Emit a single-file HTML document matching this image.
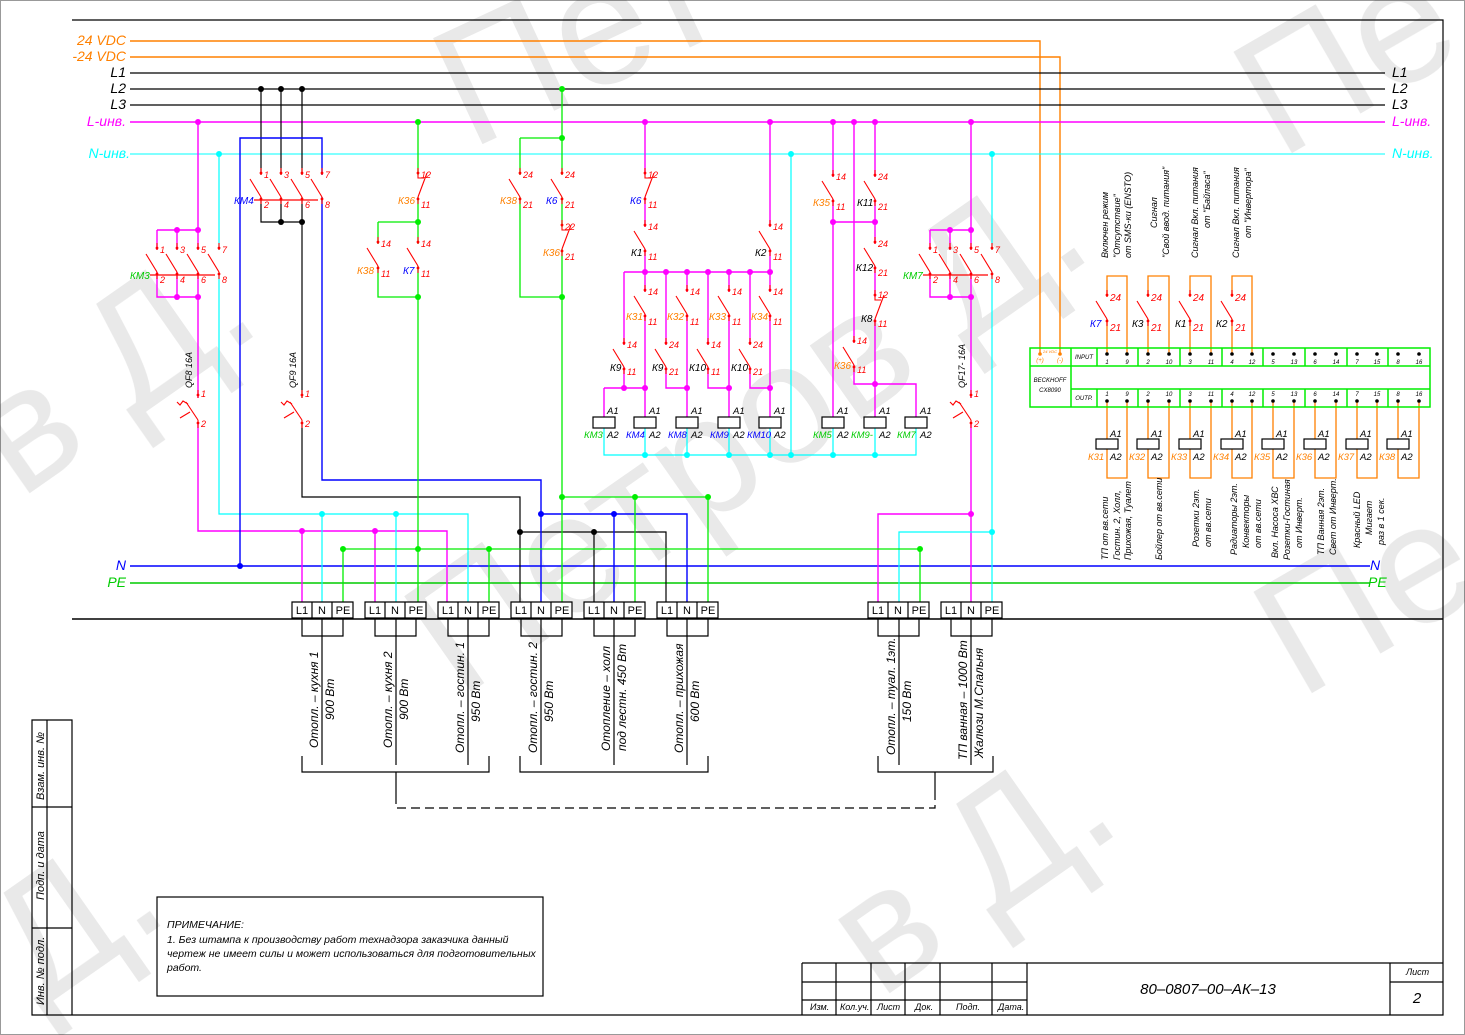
<!DOCTYPE html>
<html><head><meta charset="utf-8"><style>
html,body{margin:0;padding:0;background:#fff;}
svg{display:block;font-family:"Liberation Sans","DejaVu Sans",sans-serif;font-style:italic;}
</style></head><body>
<svg width="1465" height="1035" viewBox="0 0 1465 1035" xmlns="http://www.w3.org/2000/svg">
<defs>
<g id="no"><rect x="-3" y="7" width="6" height="22" fill="#fff"/><path d="M0,0V7M0,29V36M0,29L-11,11" stroke="#f00" stroke-width="1.1" fill="none"/><circle cx="0" cy="5" r="1.4" fill="#f00"/><circle cx="0" cy="31" r="1.4" fill="#f00"/></g>
<g id="nc"><rect x="-3" y="7" width="6" height="22" fill="#fff"/><path d="M0,0V10H6M0,29V36M0,29L9,5" stroke="#f00" stroke-width="1.1" fill="none"/><circle cx="0" cy="5" r="1.4" fill="#f00"/><circle cx="0" cy="31" r="1.4" fill="#f00"/></g>
<g id="qf"><rect x="-3" y="8" width="6" height="24" fill="#fff"/><path d="M0,0V8M0,30V38M0,30L-12,12M-10,14l-5,-3l-3,4l-3,-3M-8,22l-10,6" stroke="#f00" stroke-width="1.1" fill="none"/><circle cx="0" cy="5" r="1.4" fill="#f00"/><circle cx="0" cy="33" r="1.4" fill="#f00"/></g>
</defs>
<rect x="0.5" y="0.5" width="1464" height="1034" fill="none" stroke="#999"/>
<!-- watermark -->
<g fill="#000" opacity="0.09" font-size="170" font-style="normal">
<text transform="translate(470,150) rotate(-25)">Пет</text>
<text transform="translate(460,700) rotate(-35)">Петров Д.</text>
<text transform="translate(20,500) rotate(-35)">в Д.</text>
<text transform="translate(1280,160) rotate(-30)">Пе</text>
<text transform="translate(1300,700) rotate(-30)">Пе</text>
<text transform="translate(40,1010) rotate(-35)">Д.</text>
<text transform="translate(880,1000) rotate(-35)">в Д.</text>
</g>
<!-- frame -->
<g stroke="#000" fill="none" stroke-width="1.2">
<path d="M72,20H1443V1015H32V720H72V1015M32,807H72M32,928H72M47,720V1015"/>
<path d="M72,619H1443" stroke-width="1.6"/>
<rect x="157" y="897" width="386" height="99"/>
<path d="M802,963H1443M802,982H1027M802,1000H1027M836,963V1015M871,963V1015M905,963V1015M940,963V1015M992,963V1015M1027,963V1015M1390,963V1015M1390,982H1443M802,963V1015"/>
</g>
<g font-size="11">
<text transform="translate(44,800) rotate(-90)">Взам. инв. №</text>
<text transform="translate(44,900) rotate(-90)">Подп. и дата</text>
<text transform="translate(44,1005) rotate(-90)">Инв. № подл.</text>
</g>
<g font-size="10.5">
<text x="167" y="928">ПРИМЕЧАНИЕ:</text>
<text x="167" y="943">1. Без штампа к производству работ технадзора заказчика данный</text>
<text x="167" y="957">чертеж не имеет силы и может использоваться для подготовительных</text>
<text x="167" y="971">работ.</text>
</g>
<g font-size="9">
<text x="810" y="1010">Изм.</text><text x="840" y="1010">Кол.уч.</text><text x="877" y="1010">Лист</text><text x="915" y="1010">Док.</text><text x="956" y="1010">Подп.</text><text x="998" y="1010">Дата.</text>
<text x="1406" y="975">Лист</text>
</g>
<text x="1208" y="994" font-size="15" text-anchor="middle">80–0807–00–АК–13</text>
<text x="1417" y="1003" font-size="15" text-anchor="middle">2</text>

<!-- buses -->
<g fill="none">
<path d="M130,41H1040V354" stroke="#ff8000" stroke-width="1.4"/>
<path d="M130,57H1060V354" stroke="#ff8000" stroke-width="1.4"/>
<path d="M130,73H1385M130,89H1385M130,105H1385" stroke="#000" stroke-width="1.2"/>
<path d="M130,122H1385" stroke="#f0f" stroke-width="1.6"/>
<path d="M130,154H1385" stroke="#0ff" stroke-width="1"/>
<path d="M130,566H1370" stroke="#00f" stroke-width="1.6"/>
<path d="M130,583H1370" stroke="#0c0" stroke-width="1.6"/>
</g>
<g font-size="14">
<text x="126" y="45" fill="#ff8000" text-anchor="end">24 VDC</text>
<text x="126" y="61" fill="#ff8000" text-anchor="end">-24 VDC</text>
<text x="126" y="77" text-anchor="end">L1</text><text x="126" y="93" text-anchor="end">L2</text><text x="126" y="109" text-anchor="end">L3</text>
<text x="126" y="126" fill="#f0f" text-anchor="end">L-инв.</text>
<text x="130" y="158" fill="#0ff" text-anchor="end">N-инв.</text>
<text x="126" y="570" fill="#00f" text-anchor="end">N</text>
<text x="126" y="587" fill="#0c0" text-anchor="end">PE</text>
<text x="1392" y="77">L1</text><text x="1392" y="93">L2</text><text x="1392" y="109">L3</text>
<text x="1392" y="126" fill="#f0f">L-инв.</text><text x="1392" y="158" fill="#0ff">N-инв.</text>
<text x="1370" y="570" fill="#00f">N</text><text x="1368" y="587" fill="#0c0">PE</text>
</g>

<!-- wiring -->
<g fill="none" stroke-width="1.4">
<path stroke="#f0f" d="M198,122V531H447V608M302,531V608M375,531V608M157,230H198M157,230V297H198M177,230V297"/>
<path stroke="#f0f" d="M645,122V272M770,122V272M624,272H770M624,272V388M645,272V388M604,388H645M604,388V417M645,388V417M666,272V388H687M687,272V417M708,272V388H729M729,272V417M750,272V388H770M770,272V417"/>
<path stroke="#f0f" d="M833,122V417M833,222H875M854,122V384H916V417M875,122V417"/>
<path stroke="#f0f" d="M971,122V608M930,230H971M930,230V297H971M950,230V297M971,514H878V608"/>
<path stroke="#0ff" stroke-width="1.2" d="M219,154V514H468V608M322,514V608M396,514V608M992,154V608M992,532H899V608M791,154V455M604,428V455H916V428M645,428V455M687,428V455M729,428V455M770,428V455M833,428V455M875,428V455"/>
<path stroke="#000" stroke-width="1.2" d="M261,89V222H302M281,89V222M302,89V497H520V608M520,532H666V608M594,532V608"/>
<path stroke="#00f" stroke-width="1.4" d="M240,566V138H322V480H541V608M541,514H687V608M614,514V608"/>
<path stroke="#0e0" stroke-width="1.3" d="M418,122V608M378,222H418M378,222V297H418M343,549H920V608M343,549V608M489,549V608M562,89V608M520,138H562M520,138V297H562M562,497H708V608M635,497V608"/>
<path stroke="#ff8000" stroke-width="1.3" d="M1107,354V276H1127V354M1148,354V276H1169V354M1190,354V276H1211V354M1232,354V276H1252V354"/>
<path stroke="#ff8000" stroke-width="1.3" d="M1107,401V478H1127V401M1148,401V478H1169V401M1190,401V478H1211V401M1232,401V478H1252V401M1273,401V478H1294V401M1315,401V478H1336V401M1357,401V478H1377V401M1398,401V478H1419V401"/>
</g>
<!-- dots -->
<g>
<g fill="#000"><circle cx="261" cy="89" r="3"/><circle cx="281" cy="89" r="3"/><circle cx="302" cy="89" r="3"/><circle cx="281" cy="222" r="3"/><circle cx="302" cy="222" r="3"/><circle cx="520" cy="532" r="3"/><circle cx="594" cy="532" r="3"/></g>
<g fill="#f0f"><circle cx="198" cy="122" r="3"/><circle cx="177" cy="230" r="3"/><circle cx="198" cy="230" r="3"/><circle cx="177" cy="297" r="3"/><circle cx="198" cy="297" r="3"/><circle cx="302" cy="531" r="3"/><circle cx="375" cy="531" r="3"/><circle cx="645" cy="122" r="3"/><circle cx="770" cy="122" r="3"/><circle cx="833" cy="122" r="3"/><circle cx="854" cy="122" r="3"/><circle cx="875" cy="122" r="3"/><circle cx="971" cy="122" r="3"/><circle cx="645" cy="272" r="3"/><circle cx="666" cy="272" r="3"/><circle cx="687" cy="272" r="3"/><circle cx="708" cy="272" r="3"/><circle cx="729" cy="272" r="3"/><circle cx="750" cy="272" r="3"/><circle cx="770" cy="272" r="3"/><circle cx="624" cy="388" r="3"/><circle cx="645" cy="388" r="3"/><circle cx="687" cy="388" r="3"/><circle cx="729" cy="388" r="3"/><circle cx="770" cy="388" r="3"/><circle cx="833" cy="222" r="3"/><circle cx="875" cy="222" r="3"/><circle cx="875" cy="384" r="3"/><circle cx="950" cy="230" r="3"/><circle cx="971" cy="230" r="3"/><circle cx="950" cy="297" r="3"/><circle cx="971" cy="297" r="3"/><circle cx="971" cy="514" r="3"/></g>
<g fill="#0ff"><circle cx="219" cy="154" r="3"/><circle cx="322" cy="514" r="3"/><circle cx="396" cy="514" r="3"/><circle cx="791" cy="154" r="3"/><circle cx="992" cy="154" r="3"/><circle cx="992" cy="532" r="3"/><circle cx="645" cy="455" r="3"/><circle cx="687" cy="455" r="3"/><circle cx="729" cy="455" r="3"/><circle cx="770" cy="455" r="3"/><circle cx="791" cy="455" r="3"/><circle cx="833" cy="455" r="3"/><circle cx="875" cy="455" r="3"/></g>
<g fill="#00f"><circle cx="240" cy="566" r="3"/><circle cx="541" cy="514" r="3"/><circle cx="614" cy="514" r="3"/></g>
<g fill="#0e0"><circle cx="418" cy="122" r="3"/><circle cx="418" cy="222" r="3"/><circle cx="418" cy="297" r="3"/><circle cx="562" cy="89" r="3"/><circle cx="562" cy="138" r="3"/><circle cx="562" cy="297" r="3"/><circle cx="562" cy="497" r="3"/><circle cx="635" cy="497" r="3"/><circle cx="708" cy="497" r="3"/><circle cx="343" cy="549" r="3"/><circle cx="418" cy="549" r="3"/><circle cx="489" cy="549" r="3"/><circle cx="920" cy="549" r="3"/></g>
</g>

<!-- contacts -->
<g>
<use href="#no" x="261" y="168"/><use href="#no" x="281" y="168"/><use href="#no" x="302" y="168"/><use href="#no" x="322" y="168"/>
<use href="#no" x="157" y="243"/><use href="#no" x="177" y="243"/><use href="#no" x="198" y="243"/><use href="#no" x="219" y="243"/>
<use href="#no" x="930" y="243"/><use href="#no" x="950" y="243"/><use href="#no" x="971" y="243"/><use href="#no" x="992" y="243"/>
<use href="#nc" x="418" y="168"/><use href="#no" x="378" y="237"/><use href="#no" x="418" y="237"/>
<use href="#no" x="520" y="168"/><use href="#no" x="562" y="168"/><use href="#nc" x="562" y="220"/>
<use href="#nc" x="645" y="168"/><use href="#no" x="645" y="220"/><use href="#no" x="770" y="220"/>
<use href="#no" x="645" y="285"/><use href="#no" x="687" y="285"/><use href="#no" x="729" y="285"/><use href="#no" x="770" y="285"/>
<use href="#no" x="624" y="338"/><use href="#no" x="666" y="338"/><use href="#no" x="708" y="338"/><use href="#no" x="750" y="338"/>
<use href="#no" x="833" y="170"/><use href="#no" x="875" y="170"/><use href="#no" x="875" y="237"/><use href="#nc" x="875" y="290"/><use href="#no" x="854" y="336"/>
<use href="#no" x="1107" y="290"/><use href="#no" x="1148" y="290"/><use href="#no" x="1190" y="290"/><use href="#no" x="1232" y="290"/>
<use href="#qf" x="198" y="390"/><use href="#qf" x="302" y="390"/><use href="#qf" x="971" y="390"/>
<path d="M254,200H318M150,275H215M923,275H988" stroke="#f00" stroke-width="1.2"/>
</g>
<g font-size="9" fill="#f00">
<text x="264" y="178">1</text><text x="284" y="178">3</text><text x="305" y="178">5</text><text x="325" y="178">7</text>
<text x="264" y="208">2</text><text x="284" y="208">4</text><text x="305" y="208">6</text><text x="325" y="208">8</text>
<text x="160" y="253">1</text><text x="180" y="253">3</text><text x="201" y="253">5</text><text x="222" y="253">7</text>
<text x="160" y="283">2</text><text x="180" y="283">4</text><text x="201" y="283">6</text><text x="222" y="283">8</text>
<text x="933" y="253">1</text><text x="953" y="253">3</text><text x="974" y="253">5</text><text x="995" y="253">7</text>
<text x="933" y="283">2</text><text x="953" y="283">4</text><text x="974" y="283">6</text><text x="995" y="283">8</text>
<text x="421" y="178">12</text><text x="421" y="208">11</text>
<text x="381" y="247">14</text><text x="381" y="277">11</text><text x="421" y="247">14</text><text x="421" y="277">11</text>
<text x="523" y="178">24</text><text x="523" y="208">21</text><text x="565" y="178">24</text><text x="565" y="208">21</text>
<text x="565" y="230">22</text><text x="565" y="260">21</text>
<text x="648" y="178">12</text><text x="648" y="208">11</text><text x="648" y="230">14</text><text x="648" y="260">11</text>
<text x="773" y="230">14</text><text x="773" y="260">11</text>
<text x="648" y="295">14</text><text x="648" y="325">11</text><text x="690" y="295">14</text><text x="690" y="325">11</text>
<text x="732" y="295">14</text><text x="732" y="325">11</text><text x="773" y="295">14</text><text x="773" y="325">11</text>
<text x="627" y="348">14</text><text x="627" y="375">11</text><text x="669" y="348">24</text><text x="669" y="375">21</text>
<text x="711" y="348">14</text><text x="711" y="375">11</text><text x="753" y="348">24</text><text x="753" y="375">21</text>
<text x="836" y="180">14</text><text x="836" y="210">11</text><text x="878" y="180">24</text><text x="878" y="210">21</text>
<text x="878" y="247">24</text><text x="878" y="276">21</text><text x="878" y="298">12</text><text x="878" y="327">11</text>
<text x="857" y="344">14</text><text x="857" y="373">11</text>
<text x="201" y="397">1</text><text x="201" y="427">2</text><text x="305" y="397">1</text><text x="305" y="427">2</text><text x="974" y="397">1</text><text x="974" y="427">2</text>
<text x="1110" y="301" font-size="10">24</text><text x="1110" y="331" font-size="10">21</text>
<text x="1151" y="301" font-size="10">24</text><text x="1151" y="331" font-size="10">21</text>
<text x="1193" y="301" font-size="10">24</text><text x="1193" y="331" font-size="10">21</text>
<text x="1235" y="301" font-size="10">24</text><text x="1235" y="331" font-size="10">21</text>
</g>
<g font-size="10">
<text x="234" y="204" fill="#00f">КМ4</text>
<text x="130" y="279" fill="#0c0">КМ3</text>
<text x="903" y="279" fill="#0c0">КМ7</text>
<text x="398" y="204" fill="#ff8000">К36</text>
<text x="357" y="274" fill="#ff8000">К38</text>
<text x="403" y="274" fill="#00f">К7</text>
<text x="500" y="204" fill="#ff8000">К38</text>
<text x="546" y="204" fill="#00f">К6</text>
<text x="543" y="256" fill="#ff8000">К36</text>
<text x="630" y="204" fill="#00f">К6</text>
<text x="631" y="256">К1</text><text x="755" y="256">К2</text>
<text x="626" y="320" fill="#ff8000">К31</text><text x="667" y="320" fill="#ff8000">К32</text><text x="709" y="320" fill="#ff8000">К33</text><text x="751" y="320" fill="#ff8000">К34</text>
<text x="610" y="371">К9</text><text x="652" y="371">К9</text><text x="689" y="371">К10</text><text x="731" y="371">К10</text>
<text x="813" y="206" fill="#ff8000">К35</text><text x="857" y="206">К11</text><text x="856" y="271">К12</text><text x="861" y="322">К8</text>
<text x="834" y="369" fill="#ff8000">К36</text>
<text x="1090" y="327" fill="#00f">К7</text><text x="1132" y="327">К3</text><text x="1175" y="327">К1</text><text x="1216" y="327">К2</text>
</g>
<g font-size="9">
<text transform="translate(192,388) rotate(-90)">QF8 16A</text>
<text transform="translate(296,388) rotate(-90)">QF9 16A</text>
<text transform="translate(965,388) rotate(-90)">QF17- 16A</text>
</g>

<!-- coils -->
<g stroke="#000" stroke-width="1.2" fill="#fff">
<rect x="593" y="417" width="22" height="11"/><rect x="634" y="417" width="22" height="11"/><rect x="676" y="417" width="22" height="11"/><rect x="718" y="417" width="22" height="11"/><rect x="759" y="417" width="22" height="11"/>
<rect x="822" y="417" width="22" height="11"/><rect x="864" y="417" width="22" height="11"/><rect x="905" y="417" width="22" height="11"/>
<rect x="1096" y="439" width="22" height="10"/><rect x="1137" y="439" width="22" height="10"/><rect x="1179" y="439" width="22" height="10"/><rect x="1221" y="439" width="22" height="10"/><rect x="1262" y="439" width="22" height="10"/><rect x="1304" y="439" width="22" height="10"/><rect x="1346" y="439" width="22" height="10"/><rect x="1387" y="439" width="22" height="10"/>
</g>
<g font-size="9.5">
<text x="607" y="414">A1</text><text x="607" y="438">A2</text><text x="584" y="438" fill="#0c0">КМ3</text>
<text x="649" y="414">A1</text><text x="649" y="438">A2</text><text x="626" y="438" fill="#00f">КМ4</text>
<text x="691" y="414">A1</text><text x="691" y="438">A2</text><text x="668" y="438" fill="#00f">КМ8</text>
<text x="733" y="414">A1</text><text x="733" y="438">A2</text><text x="710" y="438" fill="#00f">КМ9</text>
<text x="774" y="414">A1</text><text x="774" y="438">A2</text><text x="747" y="438" fill="#00f">КМ10</text>
<text x="837" y="414">A1</text><text x="837" y="438">A2</text><text x="813" y="438" fill="#0c0">КМ5</text>
<text x="879" y="414">A1</text><text x="879" y="438">A2</text><text x="851" y="438" fill="#0c0">КМ9-</text>
<text x="920" y="414">A1</text><text x="920" y="438">A2</text><text x="897" y="438" fill="#0c0">КМ7</text>
<text x="1110" y="437">A1</text><text x="1110" y="460">A2</text><text x="1088" y="460" fill="#ff8000">К31</text>
<text x="1151" y="437">A1</text><text x="1151" y="460">A2</text><text x="1129" y="460" fill="#ff8000">К32</text>
<text x="1193" y="437">A1</text><text x="1193" y="460">A2</text><text x="1171" y="460" fill="#ff8000">К33</text>
<text x="1235" y="437">A1</text><text x="1235" y="460">A2</text><text x="1213" y="460" fill="#ff8000">К34</text>
<text x="1276" y="437">A1</text><text x="1276" y="460">A2</text><text x="1254" y="460" fill="#ff8000">К35</text>
<text x="1318" y="437">A1</text><text x="1318" y="460">A2</text><text x="1296" y="460" fill="#ff8000">К36</text>
<text x="1360" y="437">A1</text><text x="1360" y="460">A2</text><text x="1338" y="460" fill="#ff8000">К37</text>
<text x="1401" y="437">A1</text><text x="1401" y="460">A2</text><text x="1379" y="460" fill="#ff8000">К38</text>
</g>

<!-- Beckhoff -->
<g fill="none" stroke="#0e0" stroke-width="1.5">
<rect x="1030" y="348" width="400" height="59"/>
<path d="M1030,366H1430M1071,389H1430M1071,348V407M1097,348V366M1097,389V407M1138,348V366M1138,389V407M1180,348V366M1180,389V407M1222,348V366M1222,389V407M1263,348V366M1263,389V407M1305,348V366M1305,389V407M1347,348V366M1347,389V407M1388,348V366M1388,389V407"/>
</g>
<g fill="#000"><circle cx="1107" cy="354" r="1.8"/><circle cx="1127" cy="354" r="1.8"/><circle cx="1148" cy="354" r="1.8"/><circle cx="1169" cy="354" r="1.8"/><circle cx="1190" cy="354" r="1.8"/><circle cx="1211" cy="354" r="1.8"/><circle cx="1232" cy="354" r="1.8"/><circle cx="1252" cy="354" r="1.8"/><circle cx="1273" cy="354" r="1.8"/><circle cx="1294" cy="354" r="1.8"/><circle cx="1315" cy="354" r="1.8"/><circle cx="1336" cy="354" r="1.8"/><circle cx="1357" cy="354" r="1.8"/><circle cx="1377" cy="354" r="1.8"/><circle cx="1398" cy="354" r="1.8"/><circle cx="1419" cy="354" r="1.8"/>
<circle cx="1107" cy="401" r="1.8"/><circle cx="1127" cy="401" r="1.8"/><circle cx="1148" cy="401" r="1.8"/><circle cx="1169" cy="401" r="1.8"/><circle cx="1190" cy="401" r="1.8"/><circle cx="1211" cy="401" r="1.8"/><circle cx="1232" cy="401" r="1.8"/><circle cx="1252" cy="401" r="1.8"/><circle cx="1273" cy="401" r="1.8"/><circle cx="1294" cy="401" r="1.8"/><circle cx="1315" cy="401" r="1.8"/><circle cx="1336" cy="401" r="1.8"/><circle cx="1357" cy="401" r="1.8"/><circle cx="1377" cy="401" r="1.8"/><circle cx="1398" cy="401" r="1.8"/><circle cx="1419" cy="401" r="1.8"/></g>
<g font-size="6" text-anchor="middle">
<text x="1107" y="364">1</text><text x="1127" y="364">9</text><text x="1148" y="364">2</text><text x="1169" y="364">10</text><text x="1190" y="364">3</text><text x="1211" y="364">11</text><text x="1232" y="364">4</text><text x="1252" y="364">12</text><text x="1273" y="364">5</text><text x="1294" y="364">13</text><text x="1315" y="364">6</text><text x="1336" y="364">14</text><text x="1357" y="364">7</text><text x="1377" y="364">15</text><text x="1398" y="364">8</text><text x="1419" y="364">16</text>
<text x="1107" y="396">1</text><text x="1127" y="396">9</text><text x="1148" y="396">2</text><text x="1169" y="396">10</text><text x="1190" y="396">3</text><text x="1211" y="396">11</text><text x="1232" y="396">4</text><text x="1252" y="396">12</text><text x="1273" y="396">5</text><text x="1294" y="396">13</text><text x="1315" y="396">6</text><text x="1336" y="396">14</text><text x="1357" y="396">7</text><text x="1377" y="396">15</text><text x="1398" y="396">8</text><text x="1419" y="396">16</text>
<text x="1084" y="359">INPUT</text><text x="1084" y="400">OUTP.</text>
<text x="1050" y="382">BECKHOFF</text><text x="1050" y="392">CX8090</text>
<text x="1040" y="362" fill="#ff8000">(+)</text><text x="1060" y="362" fill="#ff8000">(-)</text><text x="1050" y="353" fill="#ff8000" font-size="4">24 VDC</text>
</g>
<g fill="#ff8000"><circle cx="1040" cy="354" r="1.8"/><circle cx="1060" cy="354" r="1.8"/></g>
<g font-size="9">
<text transform="translate(1108,258) rotate(-90)">Включен режим</text>
<text transform="translate(1120,258) rotate(-90)">"Отсутствие"</text>
<text transform="translate(1131,258) rotate(-90)">от SMS-ки (ENSTO)</text>
<text transform="translate(1157,228) rotate(-90)">Сигнал</text>
<text transform="translate(1169,258) rotate(-90)">"Свой ввод. питания"</text>
<text transform="translate(1198,258) rotate(-90)">Сигнал Вкл. питания</text>
<text transform="translate(1210,228) rotate(-90)">от "Байпаса"</text>
<text transform="translate(1239,258) rotate(-90)">Сигнал Вкл. питания</text>
<text transform="translate(1251,238) rotate(-90)">от "Инвертора"</text>
<text transform="translate(1108,560) rotate(-90)">ТП от вв.сети</text>
<text transform="translate(1120,560) rotate(-90)">Гостин. 2, Холл,</text>
<text transform="translate(1131,560) rotate(-90)">Прихожая, Туалет</text>
<text transform="translate(1162,560) rotate(-90)">Бойлер от вв.сети</text>
<text transform="translate(1199,547) rotate(-90)">Розетки 2эт.</text>
<text transform="translate(1211,547) rotate(-90)">от вв.сети</text>
<text transform="translate(1237,555) rotate(-90)">Радиаторы 2эт.</text>
<text transform="translate(1249,548) rotate(-90)">Конвекторы</text>
<text transform="translate(1261,548) rotate(-90)">от вв.сети</text>
<text transform="translate(1278,558) rotate(-90)">Вкл. Насоса ХВС</text>
<text transform="translate(1290,560) rotate(-90)">Розетки-Гостиная</text>
<text transform="translate(1302,548) rotate(-90)">от Инверт.</text>
<text transform="translate(1324,555) rotate(-90)">ТП Ванная 2эт.</text>
<text transform="translate(1336,555) rotate(-90)">Свет от Инверт.</text>
<text transform="translate(1360,548) rotate(-90)">Красный LED</text>
<text transform="translate(1372,535) rotate(-90)">Мигает</text>
<text transform="translate(1384,545) rotate(-90)">раз в 1 сек.</text>
</g>

<!-- terminals -->
<g stroke="#000" stroke-width="1.2" fill="#fff">
<path d="M292,602h61v16h-61zM312,602v16M332,602v16 M365,602h61v16h-61zM385,602v16M405,602v16 M438,602h61v16h-61zM458,602v16M478,602v16 M511,602h61v16h-61zM531,602v16M551,602v16 M584,602h61v16h-61zM604,602v16M624,602v16 M657,602h61v16h-61zM677,602v16M697,602v16 M868,602h61v16h-61zM888,602v16M908,602v16 M941,602h61v16h-61zM961,602v16M981,602v16"/>
</g>
<g font-size="11" font-style="normal" text-anchor="middle">
<text x="302" y="614">L1</text><text x="322" y="614">N</text><text x="343" y="614">PE</text>
<text x="375" y="614">L1</text><text x="395" y="614">N</text><text x="416" y="614">PE</text>
<text x="448" y="614">L1</text><text x="468" y="614">N</text><text x="489" y="614">PE</text>
<text x="521" y="614">L1</text><text x="541" y="614">N</text><text x="562" y="614">PE</text>
<text x="594" y="614">L1</text><text x="614" y="614">N</text><text x="635" y="614">PE</text>
<text x="667" y="614">L1</text><text x="687" y="614">N</text><text x="708" y="614">PE</text>
<text x="878" y="614">L1</text><text x="898" y="614">N</text><text x="919" y="614">PE</text>
<text x="951" y="614">L1</text><text x="971" y="614">N</text><text x="992" y="614">PE</text>
</g>
<g fill="none" stroke="#000" stroke-width="1.2">
<path d="M302,619V636H343V619M322,619V765M375,619V636H416V619M396,619V765M448,619V636H489V619M468,619V765M521,619V636H562V619M541,619V765M594,619V636H635V619M614,619V765M667,619V636H708V619M687,619V765M878,619V636H919V619M899,619V765M951,619V636H992V619M971,619V765"/>
<path d="M302,756V772H489V756M396,772V795M520,756V772H708V756M878,756V772H993V756M935,772V795"/>
<path d="M396,795V808H935V795" stroke-dasharray="9,5"/>
</g>
<g font-size="12">
<text transform="translate(318,748) rotate(-90)">Отопл. – кухня 1</text><text transform="translate(334,720) rotate(-90)">900 Вт</text>
<text transform="translate(392,748) rotate(-90)">Отопл. – кухня 2</text><text transform="translate(408,720) rotate(-90)">900 Вт</text>
<text transform="translate(464,753) rotate(-90)">Отопл. – гостин. 1</text><text transform="translate(480,722) rotate(-90)">950 Вт</text>
<text transform="translate(537,753) rotate(-90)">Отопл. – гостин. 2</text><text transform="translate(553,722) rotate(-90)">950 Вт</text>
<text transform="translate(610,751) rotate(-90)">Отопление – холл</text><text transform="translate(626,751) rotate(-90)">под лестн. 450 Вт</text>
<text transform="translate(683,753) rotate(-90)">Отопл. – прихожая</text><text transform="translate(699,722) rotate(-90)">600 Вт</text>
<text transform="translate(895,755) rotate(-90)">Отопл. – туал. 1эт.</text><text transform="translate(911,722) rotate(-90)">150 Вт</text>
<text transform="translate(967,760) rotate(-90)">ТП ванная – 1000 Вт</text><text transform="translate(983,758) rotate(-90)">Жалюзи М.Спальня</text>
</g>
</svg>
</body></html>
